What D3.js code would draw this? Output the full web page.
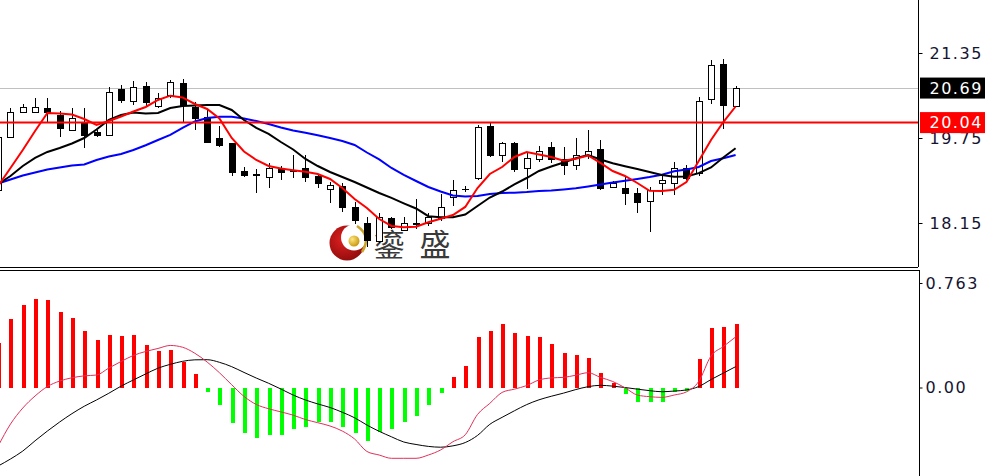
<!DOCTYPE html>
<html><head><meta charset="utf-8">
<script src="https://cdn.jsdelivr.net/npm/d3@7"></script>
<style>body{margin:0;background:#fff;overflow:hidden}svg{display:block}</style>
</head><body><svg id="c" width="985" height="476"></svg>
<script>
// ---------- DATA ----------
const openP  = [18.771,19.775,20.245,20.245,20.309,20.183,19.901,20.027,19.858,19.807,20.673,20.447,20.735,20.358,20.560,20.780,20.334,20.146,19.745,19.651,19.135,19.063,19.022,19.180,19.139,19.180,19.035,18.785,18.847,18.446,18.150,17.811,18.239,18.019,18.122,18.150,18.244,18.640,18.785,18.988,19.976,19.421,19.651,19.180,19.355,19.581,19.355,19.242,19.430,19.534,18.834,18.815,18.721,18.564,18.903,18.903,19.186,19.086,20.475,21.138,20.353];
const highP  = [19.807,20.315,20.390,20.509,20.509,20.259,20.309,20.320,19.901,20.716,20.748,20.823,20.799,20.592,20.842,20.861,20.434,20.277,19.976,19.662,19.210,19.161,19.285,19.223,19.430,19.430,19.073,18.928,18.898,18.551,18.263,18.339,18.269,18.269,18.602,18.339,18.687,18.960,18.847,19.995,20.023,19.681,19.681,19.459,19.600,19.666,19.587,19.750,19.901,19.713,18.941,19.022,18.803,18.828,19.054,19.304,19.233,20.513,21.209,21.232,20.735];
const lowP   = [18.658,19.769,20.240,20.221,20.057,19.775,19.882,19.556,19.775,19.788,20.404,20.372,20.358,20.309,20.498,20.057,19.901,19.675,19.575,19.035,19.022,18.709,18.803,18.960,18.992,18.928,18.803,18.521,18.363,18.131,17.699,17.774,18.037,18.000,18.037,18.094,18.188,18.470,18.734,18.960,19.393,19.299,19.110,18.790,19.299,19.280,19.054,19.148,19.355,18.771,18.809,18.489,18.329,17.987,18.677,18.677,18.960,19.035,20.381,19.920,20.334];
const closeP = [19.769,20.245,20.340,20.340,20.234,19.939,20.132,19.807,19.807,20.622,20.466,20.716,20.434,20.498,20.799,20.372,20.127,19.681,19.619,19.116,19.054,19.054,19.180,19.116,19.129,19.010,18.898,18.866,18.446,18.207,17.830,18.263,18.075,18.150,18.141,18.263,18.457,18.771,18.796,19.963,19.421,19.651,19.167,19.368,19.506,19.346,19.242,19.430,19.511,18.803,18.898,18.721,18.546,18.771,18.960,19.180,18.988,20.447,21.115,20.372,20.690];

const maFast = [18.847,19.185,19.524,19.882,20.221,20.212,20.193,20.108,19.995,20.070,20.155,20.249,20.334,20.466,20.547,20.513,20.390,20.296,20.117,19.750,19.496,19.336,19.223,19.176,19.144,19.114,19.073,18.979,18.809,18.602,18.432,18.225,18.094,18.069,18.081,18.163,18.231,18.301,18.452,18.809,19.073,19.204,19.393,19.487,19.440,19.393,19.323,19.359,19.421,19.280,19.129,19.035,18.903,18.756,18.753,18.775,18.922,19.317,19.713,20.051,20.343];
const maMid  = [18.884,19.035,19.223,19.374,19.487,19.562,19.647,19.750,19.910,20.089,20.183,20.230,20.212,20.221,20.315,20.353,20.362,20.372,20.372,20.278,20.089,19.939,19.826,19.675,19.534,19.355,19.223,19.110,19.016,18.922,18.818,18.715,18.623,18.521,18.423,18.278,18.259,18.257,18.310,18.470,18.630,18.743,18.875,18.997,19.129,19.214,19.289,19.370,19.430,19.346,19.276,19.220,19.167,19.110,19.054,19.020,19.025,19.088,19.195,19.383,19.558];
const maSlow = [18.894,18.969,19.044,19.101,19.157,19.195,19.233,19.251,19.336,19.402,19.449,19.524,19.613,19.713,19.807,19.939,20.061,20.127,20.151,20.151,20.117,20.070,20.014,19.948,19.892,19.848,19.803,19.750,19.694,19.619,19.477,19.346,19.186,19.054,18.941,18.828,18.743,18.668,18.649,18.658,18.696,18.715,18.721,18.734,18.753,18.762,18.781,18.803,18.837,18.875,18.913,18.946,18.979,19.016,19.060,19.124,19.157,19.204,19.317,19.370,19.430];

const macdHist = [0.327,0.498,0.602,0.646,0.639,0.553,0.505,0.413,0.347,0.383,0.376,0.383,0.310,0.269,0.274,0.188,0.096,-0.035,-0.128,-0.261,-0.334,-0.371,-0.347,-0.347,-0.305,-0.286,-0.250,-0.250,-0.286,-0.334,-0.388,-0.323,-0.305,-0.250,-0.206,-0.128,-0.042,0.074,0.159,0.367,0.413,0.461,0.396,0.378,0.367,0.318,0.254,0.237,0.218,0.104,0.033,-0.050,-0.104,-0.104,-0.104,-0.031,-0.023,0.206,0.432,0.444,0.461];
const macdDif  = [-0.427,-0.267,-0.150,-0.062,0.007,0.047,0.071,0.085,0.091,0.142,0.190,0.234,0.263,0.285,0.307,0.294,0.250,0.186,0.108,0.020,-0.065,-0.124,-0.155,-0.178,-0.202,-0.234,-0.257,-0.281,-0.318,-0.376,-0.467,-0.493,-0.517,-0.517,-0.517,-0.493,-0.456,-0.396,-0.345,-0.197,-0.116,-0.036,-0.012,0.014,0.055,0.070,0.074,0.090,0.108,0.074,0.044,-0.002,-0.055,-0.067,-0.072,-0.055,-0.032,0.044,0.230,0.299,0.369];
const macdDea  = [-0.573,-0.522,-0.464,-0.389,-0.318,-0.252,-0.191,-0.137,-0.091,-0.042,0.010,0.055,0.099,0.141,0.169,0.191,0.202,0.203,0.184,0.152,0.110,0.069,0.031,-0.011,-0.055,-0.091,-0.120,-0.146,-0.181,-0.221,-0.274,-0.320,-0.360,-0.398,-0.416,-0.430,-0.436,-0.426,-0.402,-0.350,-0.269,-0.218,-0.170,-0.125,-0.090,-0.064,-0.041,-0.015,0.006,0.016,0.010,0.000,-0.012,-0.023,-0.031,-0.026,-0.018,0.007,0.058,0.105,0.152];

const priceTicks = [21.35, 19.75, 18.15];
const macdTicks = [0.763, 0];
const macdTickLabels = ["0.763", "0.00"];
const lastPrice = 20.69;
const levelPrice = 20.04;
const logoChars = ["鎏", "盛"];

// ---------- LAYOUT ----------
const svg = d3.select("#c");
const AX = 918;             // right axis x
const mainBottom = 267, subTop = 270, H = 476;
const n = openP.length;
const x = d3.scaleLinear().domain([0, n - 1]).range([-1.8, 735.6]);
const yP = d3.scaleLinear().domain([18.15, 21.35]).range([223, 53]);
const yM = d3.scaleLinear().domain([0, 0.763]).range([387.5, 283]);
const idx = d3.range(n);
const FONT = "'DejaVu Sans', Verdana, sans-serif";

const defs = svg.append("defs");
defs.append("clipPath").attr("id", "clipMain").append("rect").attr("x", 0).attr("y", 0).attr("width", AX).attr("height", mainBottom);
defs.append("clipPath").attr("id", "clipSub").append("rect").attr("x", 0).attr("y", subTop + 1).attr("width", AX).attr("height", H - subTop);
const rg = defs.append("radialGradient").attr("id", "logoRed").attr("cx", "40%").attr("cy", "40%").attr("r", "70%");
rg.append("stop").attr("offset", "0%").attr("stop-color", "#e02020");
rg.append("stop").attr("offset", "100%").attr("stop-color", "#8a0a0a");
const gg = defs.append("radialGradient").attr("id", "logoGold").attr("cx", "35%").attr("cy", "35%").attr("r", "70%");
gg.append("stop").attr("offset", "0%").attr("stop-color", "#ffe680");
gg.append("stop").attr("offset", "100%").attr("stop-color", "#c8960a");

// ---------- MAIN PANEL ----------
const main = svg.append("g").attr("clip-path", "url(#clipMain)");

// logo (background)
const logo = main.append("g");
logo.append("circle").attr("cx", 347).attr("cy", 243).attr("r", 17.5).attr("fill", "url(#logoRed)");
logo.append("circle").attr("cx", 354).attr("cy", 237.5).attr("r", 13).attr("fill", "#fff");
logo.append("path").attr("d", "M357,226 Q372,236 362,252").attr("fill", "none").attr("stroke", "#c9a227").attr("stroke-width", 2.5);
logo.append("circle").attr("cx", 354).attr("cy", 241).attr("r", 5.5).attr("fill", "url(#logoGold)");
logo.selectAll("text.logo").data(logoChars).enter().append("text")
  .attr("class", "logo")
  .attr("x", (d, i) => 389 + i * 46).attr("y", 256)
  .attr("text-anchor", "middle")
  .attr("font-family", "'Noto Sans CJK SC', sans-serif")
  .attr("font-size", 31).attr("fill", "#3a3a3a")
  .text(d => d);

// last price gray line
main.append("line").attr("x1", 0).attr("x2", AX).attr("y1", Math.round(yP(lastPrice)) + 0.5).attr("y2", Math.round(yP(lastPrice)) + 0.5)
  .attr("stroke", "#c0c0c0").attr("stroke-width", 1);

// candles
const cg = main.append("g").attr("shape-rendering", "crispEdges");
idx.forEach(i => {
  const cx = Math.round(x(i));
  const o = openP[i], c = closeP[i];
  const up = c >= o;
  cg.append("line").attr("x1", cx + 0.5).attr("x2", cx + 0.5)
    .attr("y1", Math.round(yP(highP[i]))).attr("y2", Math.round(yP(lowP[i])))
    .attr("stroke", "#000").attr("stroke-width", 1);
  const yt = Math.round(yP(Math.max(o, c))), yb = Math.round(yP(Math.min(o, c)));
  cg.append("rect").attr("x", cx - 3 + 0.5).attr("y", yt + 0.5)
    .attr("width", 6).attr("height", Math.max(0.01, yb - yt))
    .attr("fill", up ? "#fff" : "#000").attr("stroke", "#000").attr("stroke-width", 1);
});

// moving averages
const lineP = arr => d3.line().x((d, i) => x(i)).y(d => yP(d))(arr);
main.append("path").attr("d", lineP(maSlow)).attr("fill", "none").attr("stroke", "#0000ff").attr("stroke-width", 2);
main.append("path").attr("d", lineP(maMid)).attr("fill", "none").attr("stroke", "#000").attr("stroke-width", 2);
main.append("path").attr("d", lineP(maFast)).attr("fill", "none").attr("stroke", "#ff0000").attr("stroke-width", 2);

// horizontal level line
main.append("line").attr("x1", 0).attr("x2", AX).attr("y1", yP(levelPrice)).attr("y2", yP(levelPrice))
  .attr("stroke", "#ff0000").attr("stroke-width", 2);

// ---------- MACD PANEL ----------
const sub = svg.append("g").attr("clip-path", "url(#clipSub)");
sub.append("g").attr("shape-rendering", "crispEdges").selectAll("rect").data(macdHist).enter().append("rect")
  .attr("x", (d, i) => Math.round(x(i)) - 1.5)
  .attr("width", 4)
  .attr("y", d => Math.min(yM(d), yM(0)))
  .attr("height", d => Math.abs(yM(d) - yM(0)))
  .attr("fill", d => d >= 0 ? "#ff0000" : "#00ff00");
const lineM = arr => d3.line().x((d, i) => x(i)).y(d => yM(d)).curve(d3.curveMonotoneX)(arr);
sub.append("path").attr("d", lineM(macdDea)).attr("fill", "none").attr("stroke", "#000").attr("stroke-width", 1);
sub.append("path").attr("d", lineM(macdDif)).attr("fill", "none").attr("stroke", "#e0305a").attr("stroke-width", 1);

// ---------- FRAMES ----------
const frame = svg.append("g").attr("shape-rendering", "crispEdges").attr("stroke", "#000");
frame.append("line").attr("x1", 0).attr("x2", AX).attr("y1", mainBottom + 0.5).attr("y2", mainBottom + 0.5);
frame.append("line").attr("x1", 0).attr("x2", AX + 1).attr("y1", subTop + 0.5).attr("y2", subTop + 0.5);
frame.append("line").attr("x1", AX + 0.5).attr("x2", AX + 0.5).attr("y1", 0).attr("y2", mainBottom);
frame.append("line").attr("x1", AX + 1.5).attr("x2", AX + 1.5).attr("y1", subTop).attr("y2", H);

// ---------- AXES ----------
function styleAxis(g) {
  g.select(".domain").remove();
  g.selectAll("line").attr("stroke", "#000");
  g.selectAll("text").attr("font-family", FONT).attr("font-size", 16)
    .attr("fill", "#141432").style("letter-spacing", "1.5px");
}
svg.append("g").attr("transform", `translate(${AX + 0.5},0)`)
  .call(d3.axisRight(yP).tickValues(priceTicks).tickSize(4).tickPadding(7).tickFormat(d3.format(".2f")))
  .call(styleAxis);
svg.append("g").attr("transform", `translate(${AX + 1.5},0)`)
  .call(d3.axisRight(yM).tickValues(macdTicks).tickSize(3).tickPadding(3).tickFormat((d, i) => macdTickLabels[i]))
  .call(styleAxis);

// price tags
function tag(price, bg) {
  const yy = yP(price);
  svg.append("rect").attr("x", AX + 2).attr("y", yy - 10.5).attr("width", 985 - AX - 2).attr("height", 21).attr("fill", bg);
  svg.append("text").attr("x", AX + 11.5).attr("y", yy).attr("dy", "0.36em")
    .attr("font-family", FONT).attr("font-size", 16).attr("fill", "#fff").style("letter-spacing", "1.5px")
    .text(d3.format(".2f")(price));
}
tag(lastPrice, "#000");
tag(levelPrice, "#ff0000");
</script>
</body></html>
